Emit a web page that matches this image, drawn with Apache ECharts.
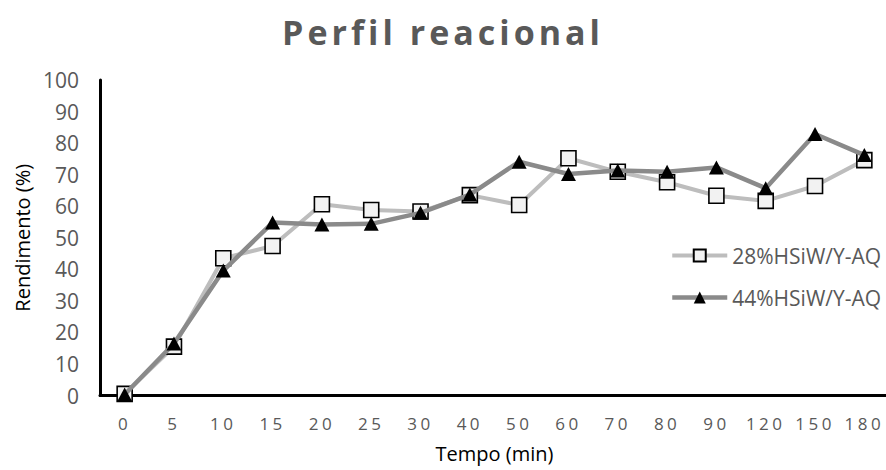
<!DOCTYPE html>
<html>
<head>
<meta charset="utf-8">
<style>
  html, body { margin: 0; padding: 0; background: #fff; }
  #chart { width: 886px; height: 470px; }
  /* spaced lettering for the title and the time labels */
  #chart svg text[style*="bold"] { letter-spacing: 4px; }
  #chart svg text[style*="17px"] { letter-spacing: 3.5px; }
</style>
<script src="https://cdn.jsdelivr.net/npm/echarts@6/dist/echarts.min.js"></script>
</head>
<body>
<div id="chart"></div>
<script>
// Reaction time (min)
const tempos = ['0', '5', '10', '15', '20', '25', '30', '40', '50', '60', '70', '80', '90', '120', '150', '180'];

// Yield (%) per catalyst
const rend28 = [0.5, 15.5, 43.5, 47.4, 60.6, 58.8, 58.3, 63.5, 60.4, 75.2, 70.9, 67.6, 63.3, 61.7, 66.4, 74.6];
const rend44 = [0.3, 16.5, 39.6, 54.8, 54.2, 54.4, 57.9, 63.7, 74.1, 70.2, 71.3, 70.9, 72.3, 65.7, 82.9, 76.2];

const nome28 = '28%HSiW/Y-AQ';
const nome44 = '44%HSiW/Y-AQ';

const FONT = 'Open Sans';
const GREY_TEXT = '#595959';

const chart = echarts.init(document.getElementById('chart'), null, { renderer: 'svg' });

chart.setOption({
  animation: false,
  backgroundColor: '#ffffff',
  title: {
    text: 'Perfil reacional',
    left: 'center',
    top: 10,
    textStyle: { fontFamily: FONT, fontWeight: 'bold', fontSize: 34, color: GREY_TEXT }
  },
  grid: {
    left: 100, top: 80, width: 789, bottom: 74.5,
    containLabel: false,
    outerBoundsMode: 'none'
  },
  legend: {
    orient: 'vertical',
    left: 670,
    top: 245,
    padding: 0,
    itemWidth: 55,
    itemHeight: 15,
    itemGap: 21,
    lineStyle: { width: 'inherit' },
    textStyle: { fontFamily: FONT, fontSize: 21, color: GREY_TEXT },
    data: [nome28, nome44]
  },
  xAxis: {
    type: 'category',
    data: tempos,
    boundaryGap: true,
    name: 'Tempo (min)',
    nameLocation: 'middle',
    nameGap: 48,
    nameTextStyle: { fontFamily: FONT, fontSize: 20, color: '#000' },
    axisLine: { lineStyle: { color: '#000', width: 3 } },
    axisTick: { show: false },
    axisLabel: {
      interval: 0, margin: 19,
      fontFamily: FONT, fontSize: 17, color: GREY_TEXT
    },
    splitLine: { show: false }
  },
  yAxis: {
    type: 'value',
    min: 0,
    max: 100,
    interval: 10,
    name: 'Rendimento (%)',
    nameLocation: 'middle',
    nameGap: 68,
    nameRotate: 90,
    nameTextStyle: { fontFamily: FONT, fontSize: 20, color: '#000' },
    axisLine: { show: true, lineStyle: { color: '#000', width: 3 } },
    axisTick: { show: false },
    axisLabel: { margin: 21, fontFamily: FONT, fontSize: 21, color: GREY_TEXT },
    splitLine: { show: false }
  },
  series: [
    {
      name: nome28,
      type: 'line',
      data: rend28,
      symbol: 'rect',
      symbolSize: 15,
      lineStyle: { color: '#bdbdbd', width: 4 },
      itemStyle: { color: '#f2f2f2', borderColor: '#000', borderWidth: 1.6 },
      z: 2
    },
    {
      name: nome44,
      type: 'line',
      data: rend44,
      symbol: 'triangle',
      symbolSize: [15, 14],
      lineStyle: { color: '#8a8a8a', width: 4.5 },
      itemStyle: { color: '#000', borderColor: '#000', borderWidth: 0 },
      z: 3
    }
  ]
});
</script>
</body>
</html>
